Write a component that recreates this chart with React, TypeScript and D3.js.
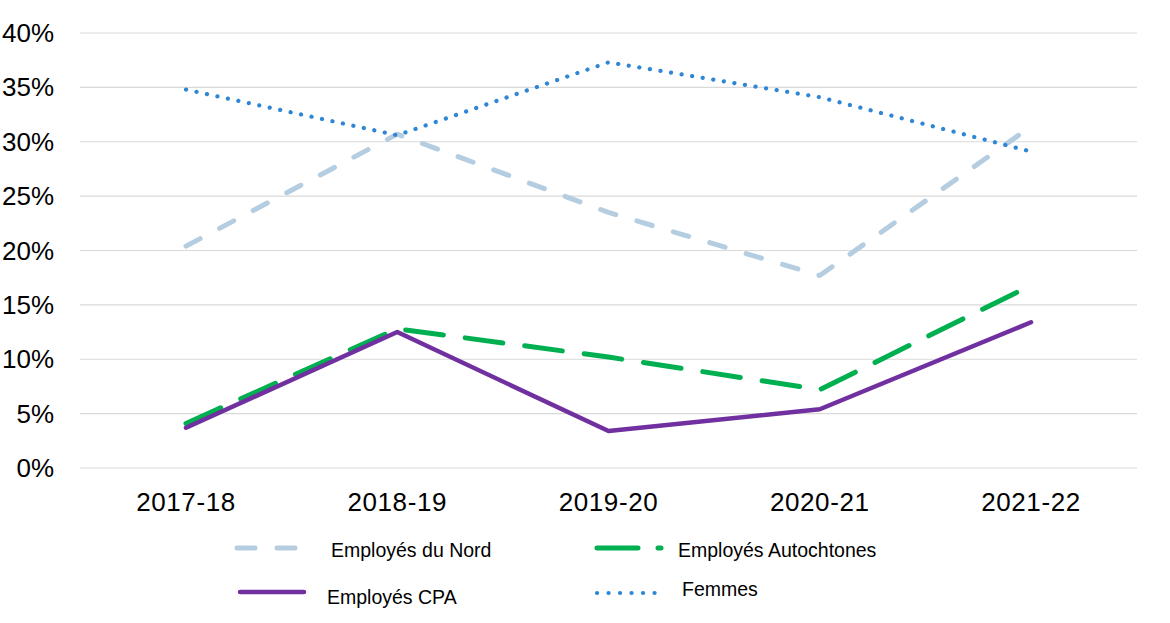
import React from 'react';
import * as d3 from 'd3';

const years = ['2017-18', '2018-19', '2019-20', '2020-21', '2021-22'];
const nord = [20.4, 30.7, 23.5, 17.7, 31.4];
const autochtones = [4.1, 12.8, 10.2, 7.2, 16.8];
const cpa = [3.7, 12.5, 3.4, 5.4, 13.4];
const femmes = [34.8, 30.6, 37.3, 34.1, 29.1];
const yTicks = [0, 5, 10, 15, 20, 25, 30, 35, 40];

const series = [
  { name: 'Employés du Nord', values: nord, color: '#b4cde0', width: 5, dash: '16 22', legendDash: '18 22' },
  { name: 'Employés Autochtones', values: autochtones, color: '#00b050', width: 5, dash: '38 22', legendDash: '41 20' },
  { name: 'Employés CPA', values: cpa, color: '#7030a0', width: 4.5, dash: null, legendDash: null },
  { name: 'Femmes', values: femmes, color: '#2e86d4', width: 4.2, dash: '0.1 10.6', legendDash: '0.1 11.4' },
];

const W = 1170;
const H = 623;
const margin = { left: 80, right: 33, top: 33, bottom: 155 };

export default function App() {
  const x = d3
    .scalePoint<string>()
    .domain(years)
    .range([186, 1031]);
  const y = d3
    .scaleLinear()
    .domain([0, 40])
    .range([H - margin.bottom, margin.top]);

  const line = d3
    .line<number>()
    .x((_, i) => x(years[i])!)
    .y((d) => y(d));

  const font = 'Arial, "Liberation Sans", sans-serif';

  // legend layout: two columns, two rows
  const legend = [
    { s: series[0], lx: 237, ll: 64, ly: 548, tx: 331, ty: 557 },
    { s: series[1], lx: 597, ll: 64, ly: 548, tx: 678, ty: 557 },
    { s: series[2], lx: 240, ll: 64, ly: 592, tx: 327, ty: 604 },
    { s: series[3], lx: 597, ll: 58, ly: 593, tx: 682, ty: 596 },
  ];

  return (
    <svg
      width={W}
      height={H}
      style={{ position: 'absolute', left: 0, top: 0, background: '#fff' }}
    >
      {/* gridlines + y labels */}
      {yTicks.map((t) => (
        <g key={t}>
          <line
            x1={margin.left}
            x2={W - margin.right}
            y1={y(t)}
            y2={y(t)}
            stroke="#d9d9d9"
            strokeWidth={1.2}
          />
          <text
            x={54}
            y={y(t)}
            textAnchor="end"
            dominantBaseline="central"
            fontFamily={font}
            fontSize={26}
            fill="#000"
          >
            {t}%
          </text>
        </g>
      ))}

      {/* x labels */}
      {years.map((yr) => (
        <text
          key={yr}
          x={x(yr)}
          y={511}
          textAnchor="middle"
          fontFamily={font}
          fontSize={26}
          letterSpacing={0.6}
          fill="#000"
        >
          {yr}
        </text>
      ))}

      {/* series lines */}
      {series.map((s) => (
        <path
          key={s.name}
          d={line(s.values) || ''}
          fill="none"
          stroke={s.color}
          strokeWidth={s.width}
          strokeDasharray={s.dash || undefined}
          strokeLinecap="round"
          strokeLinejoin="round"
        />
      ))}

      {/* legend */}
      {legend.map(({ s, lx, ll, ly, tx, ty }) => (
        <g key={s.name}>
          <line
            x1={lx}
            x2={lx + ll}
            y1={ly}
            y2={ly}
            stroke={s.color}
            strokeWidth={s.width}
            strokeDasharray={s.legendDash || undefined}
            strokeLinecap="round"
          />
          <text x={tx} y={ty} fontFamily={font} fontSize={19.5} fill="#000">
            {s.name}
          </text>
        </g>
      ))}
    </svg>
  );
}
